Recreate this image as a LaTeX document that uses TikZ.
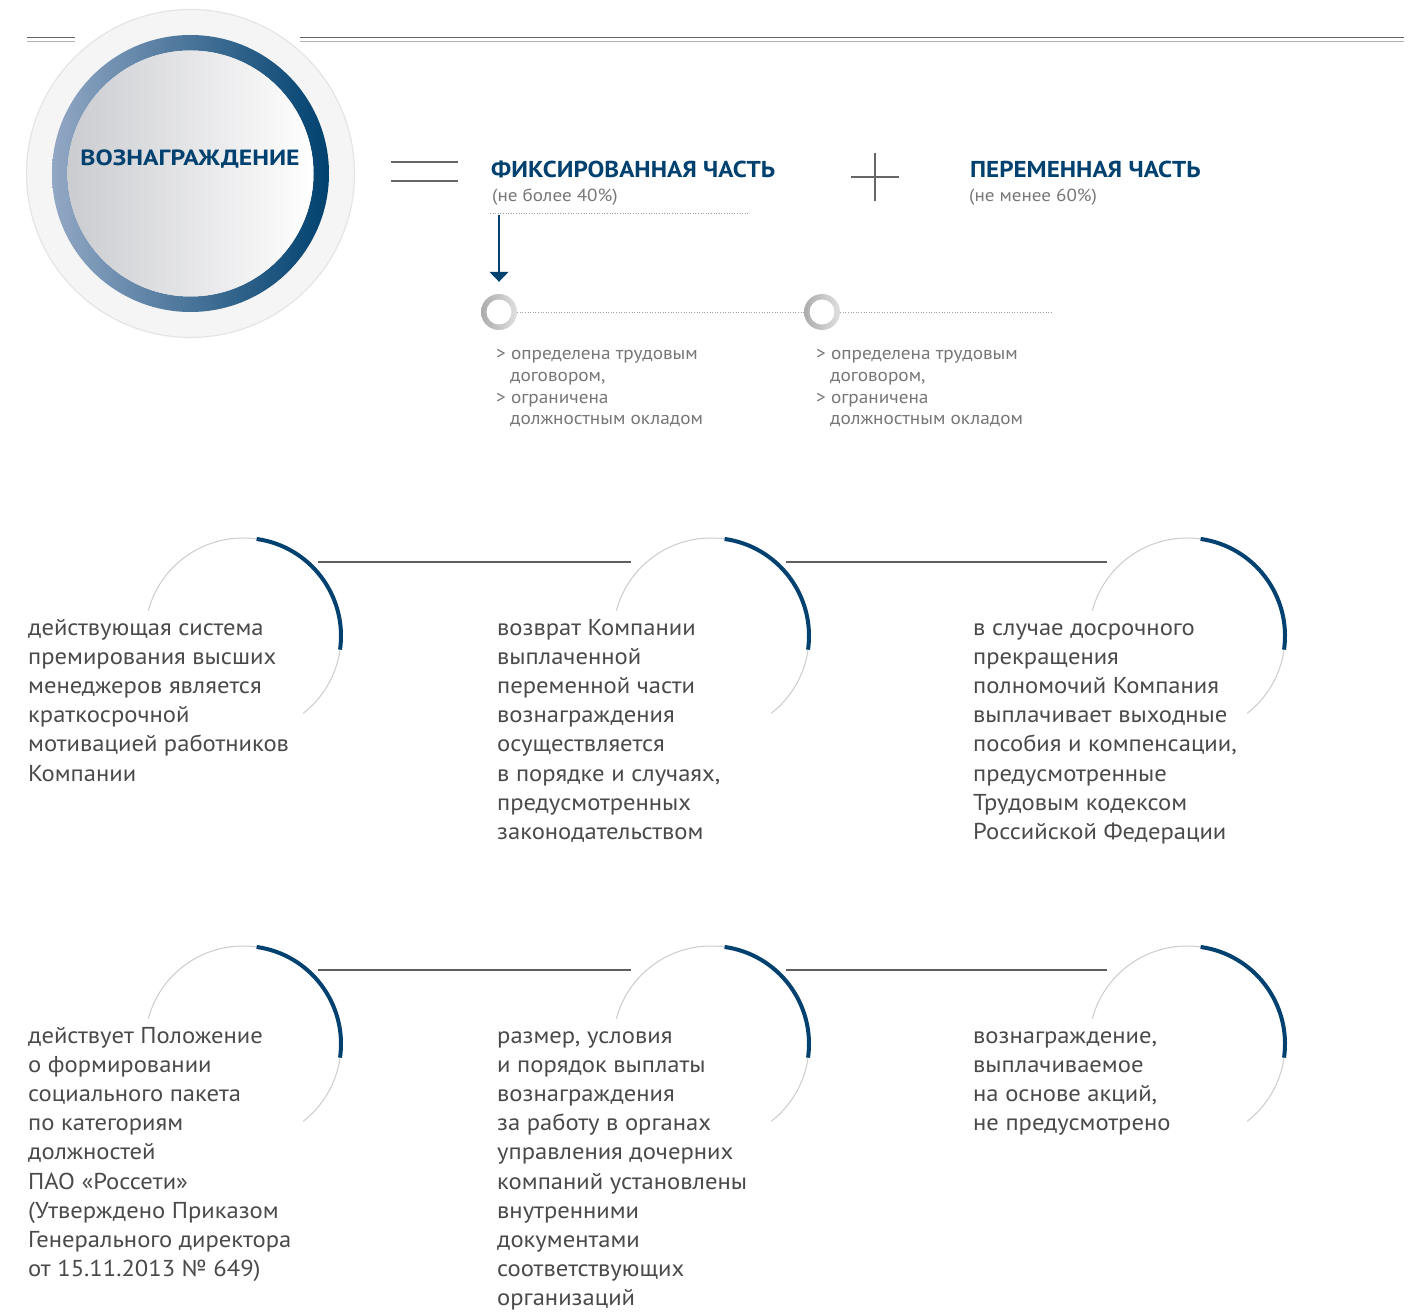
\documentclass[tikz,border=0pt]{standalone}
\usepackage{fontspec}
\setmainfont{PT Sans}
\newfontfamily\notefont[FakeStretch=1.07]{PT Sans}
\newfontfamily\headfont[FakeStretch=1.09]{PT Sans}
\newfontfamily\titlefont[FakeStretch=1.17]{PT Sans}
\usetikzlibrary{
	arrows.meta,
	positioning,
	calc
}
\definecolor{awardblue}{HTML}{00416F}
\definecolor{ringlight}{HTML}{92A7C4}
\definecolor{diskgray}{HTML}{CBCCD0}
\definecolor{notegray}{HTML}{4A4A4A}
\definecolor{subgray}{HTML}{777777}
\definecolor{linegray}{HTML}{5E5E5E}

\begin{document}
\begin{tikzpicture}[
		x=1pt, y=1pt,
		note/.style={anchor=base west, inner sep=0pt, align=left, text=notegray, font=\notefont\fontsize{23}{29.2}\selectfont},
		bullets/.style={anchor=base west, inner sep=0pt, align=left, text=subgray, font=\notefont\fontsize{18}{21.6}\selectfont},
		heading/.style={anchor=base west, inner sep=0pt, text=awardblue, font=\headfont\bfseries\fontsize{23}{26}\selectfont},
		subhead/.style={anchor=base west, inner sep=0pt, text=subgray, font=\headfont\fontsize{17.5}{20}\selectfont},
		dotline/.style={draw=gray!75, line width=0.6pt, dotted},
		link/.style={draw=linegray, line width=1.2pt, shorten <=11pt, shorten >=16pt},
		sign/.style={draw=gray!80!black, line width=2.6pt},
		pointer/.style={-{Triangle[width=19pt,length=10pt]}, draw=awardblue, fill=awardblue, line width=1.4pt},
		ring/.style={circle, minimum size=36pt, inner sep=0pt, left color=gray!65, right color=gray!25,
			path picture={\fill[white] (path picture bounding box.center) circle (12.5pt);}},
		slot/.style={circle, minimum size=196pt, inner sep=0pt, outer sep=0pt},
		arcthin/.style={draw=gray!40, line width=1pt},
		arcbold/.style={draw=awardblue, line width=4pt}
		]
		
		\useasboundingbox (0,0) rectangle (1417,-1313);
		\fill[white] (0,0) rectangle (1417,-1313);
		
		% Top rules
		\draw[gray!80!black, line width=1.2pt] (27,-37.5) -- (75,-37.5) (300,-37.5) -- (1404,-37.5);
		\draw[gray!60, line width=1.2pt] (27,-41.5) -- (75,-41.5) (300,-41.5) -- (1404,-41.5);
		
		% Badge
		\coordinate (hub) at (190.5,-173.5);
		\filldraw[fill=gray!8, draw=gray!20, line width=1.2pt] (hub) circle (164);
		\shade[even odd rule, left color=ringlight, right color=awardblue] (hub) circle (138.5) (hub) circle (123);
		\shade[left color=diskgray, right color=white] (hub) circle (123);
		\node[text=awardblue, font=\titlefont\bfseries\fontsize{22}{24}\selectfont] (award) at (190,-159) {ВОЗНАГРАЖДЕНИЕ};
		
		% Equal and plus
		\draw[sign] (391,-162) -- (458,-162) (391,-181) -- (458,-181);
		\draw[sign, line width=2pt] (851,-177) -- (899,-177) (875,-153) -- (875,-201);
		
		% Headings
		\node[heading] (fixhead) at (491,-178) {ФИКСИРОВАННАЯ ЧАСТЬ};
		\node[subhead] (fixsub) at (492,-202) {(не более 40\%)};
		\node[heading] (varhead) at (970,-178) {ПЕРЕМЕННАЯ ЧАСТЬ};
		\node[subhead] (varsub) at (969,-202) {(не менее 60\%)};
		
		\coordinate (fixrule) at (490,-213);
		\draw[dotline] (fixrule) -- ++(258,0);
		
		% Rings
		\node[ring] (ring1) at (499,-312) {};
		\node[ring] (ring2) at (822,-312) {};
		\coordinate (ringend) at (1051,-312);
		\draw[dotline] (ring1) -- (ring2);
		\draw[dotline] (ring2) -- (ringend);
		\draw[pointer, shorten >=12pt] ([yshift=-2pt]fixrule -| ring1.north) -- (ring1.north);
		
		% base anchor sits on the last line
		\node[bullets] (bul1) at (496,-424.8) {> определена трудовым\\\hspace*{14pt}договором,\\> ограничена\\\hspace*{14pt}должностным окладом};
		\node[bullets] (bul2) at (816,-424.8) {> определена трудовым\\\hspace*{14pt}договором,\\> ограничена\\\hspace*{14pt}должностным окладом};
		
		% Slots
		\foreach \row/\cy in {1/636, 2/1044}{
			\foreach \col/\cx in {1/243, 2/711, 3/1187}{
				\node[slot] (slot\row\col) at (\cx,-\cy) {};
				\draw[arcthin] (slot\row\col.165) arc[start angle=165, end angle=-52, radius=98];
				\draw[arcbold] (slot\row\col.82) arc[start angle=82, end angle=-8, radius=98];
			}
			\draw[link] (slot\row1.49) -- (slot\row2.131);
			\draw[link] (slot\row2.49) -- (slot\row3.131);
		}
		
		% Notes
		\node[note] (note11) at (28,-781) {действующая система\\премирования высших\\менеджеров является\\краткосрочной\\мотивацией работников\\Компании};
		\node[note] (note12) at (497,-839.4) {возврат Компании\\выплаченной\\переменной части\\вознаграждения\\осуществляется\\в порядке и случаях,\\предусмотренных\\законодательством};
		\node[note] (note13) at (973,-839.4) {в случае досрочного\\прекращения\\полномочий Компания\\выплачивает выходные\\пособия и компенсации,\\предусмотренные\\Трудовым кодексом\\Российской Федерации};
		\node[note] (note21) at (28,-1276.6) {действует Положение\\о формировании\\социального пакета\\по категориям\\должностей\\ПАО «Россети»\\(Утверждено Приказом\\Генерального директора\\от 15.11.2013 № 649)};
		\node[note] (note22) at (497,-1305.8) {размер, условия\\и порядок выплаты\\вознаграждения\\за работу в органах\\управления дочерних\\компаний установлены\\внутренними\\документами\\соответствующих\\организаций};
		\node[note] (note23) at (973,-1130.6) {вознаграждение,\\выплачиваемое\\на основе акций,\\не предусмотрено};
		
	\end{tikzpicture}
\end{document}
